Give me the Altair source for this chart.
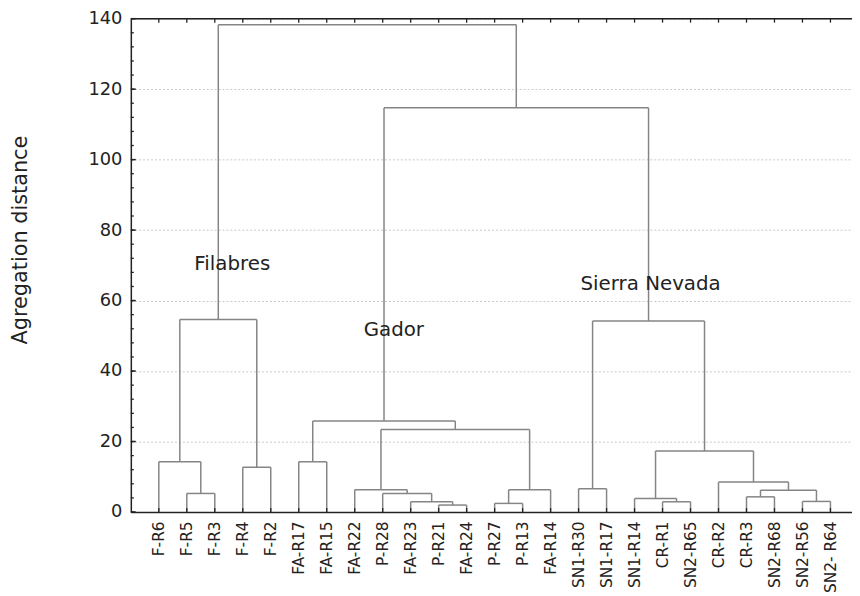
import json
import altair as alt
import pandas as pd

# ---- data ----
leaves = ["F-R6", "F-R5", "F-R3", "F-R4", "F-R2", "FA-R17", "FA-R15", "FA-R22",
          "P-R28", "FA-R23", "P-R21", "FA-R24", "P-R27", "P-R13", "FA-R14",
          "SN1-R30", "SN1-R17", "SN1-R14", "CR-R1", "SN2-R65", "CR-R2", "CR-R3",
          "SN2-R68", "SN2-R56", "SN2- R64"]
# linkage: node ids 0..24 are leaves, merge k creates node 25+k
merge_left = [10, 12, 9, 18, 23, 17, 21, 1, 8, 31, 7, 26, 15, 20, 3, 0, 5, 30, 35, 41, 37, 40, 44, 46]
merge_right = [11, 13, 25, 19, 24, 28, 22, 2, 27, 29, 33, 14, 16, 34, 4, 32, 6, 38, 36, 43, 42, 39, 45, 47]
merge_height = [1.97, 2.44, 2.9, 2.9, 3.0, 3.84, 4.3, 5.26, 5.26, 6.2, 6.3, 6.3, 6.6, 8.5,
                12.7, 14.25, 14.25, 17.3, 23.4, 25.8, 54.2, 54.6, 114.7, 138.3]
group_labels = ["Filabres", "Gador", "Sierra Nevada"]
group_label_x = [2.27, 8.32, 16.07]
group_label_y = [68.6, 49.85, 63.0]
y_major = [0, 20, 40, 60, 80, 100, 120, 140]
y_minor = list(range(0, 141, 4))

# ---- build dendrogram segments ----
n = len(leaves)
xpos = {i: i + 1 for i in range(n)}
hpos = {i: 0.0 for i in range(n)}
segs = []
for k, (a, b, h) in enumerate(zip(merge_left, merge_right, merge_height)):
    node = n + k
    xa, xb = xpos[a], xpos[b]
    segs.append(dict(x=xa, x2=xb, y=h, y2=h))
    segs.append(dict(x=xa, x2=xa, y=hpos[a], y2=h))
    segs.append(dict(x=xb, x2=xb, y=hpos[b], y2=h))
    xpos[node] = (xa + xb) / 2
    hpos[node] = h
seg_df = pd.DataFrame(segs)

XMAX = 25.77
FONT = "DejaVu Sans"
AX = "#222222"

xscale = alt.Scale(domain=[0, XMAX], nice=False, zero=False)
yscale = alt.Scale(domain=[0, 140], nice=False)

label_expr = json.dumps(leaves) + "[datum.value - 1]"

X_AXIS = alt.Axis(
    values=list(range(1, n + 1)), labelExpr=label_expr, labelAngle=-90,
    labelFontSize=15.5, labelFont=FONT, labelColor=AX, labelPadding=9,
    ticks=False, grid=False, domainColor=AX, domainWidth=1.5,
    labelOverlap=False, labelBound=False, labelFlush=False, title=None)
Y_AXIS = alt.Axis(
    values=y_major, labelFontSize=18, labelFont=FONT, labelColor=AX,
    labelPadding=9, ticks=False, grid=True, gridDash=[2, 2],
    gridColor="#c8c8c8", gridWidth=1, domainColor=AX, domainWidth=1.5,
    title="Agregation distance", titleFont=FONT, titleFontSize=21,
    titleFontWeight="normal", titleColor=AX, titleAngle=270,
    titleAlign="center", titleBaseline="bottom", titleX=-101, titleY=223)


def xf(field):
    return alt.X(field, scale=xscale, axis=X_AXIS)


def yf(field):
    return alt.Y(field, scale=yscale, axis=Y_AXIS)


def xd(v):
    return alt.XDatum(v, scale=xscale, axis=X_AXIS)


def yd(v):
    return alt.YDatum(v, scale=yscale, axis=Y_AXIS)


dendro = alt.Chart(seg_df).mark_rule(color="#858585", strokeWidth=1.5).encode(
    x=xf("x:Q"), x2="x2:Q", y=yf("y:Q"), y2="y2:Q")

leaf_df = pd.DataFrame({"x": list(range(1, n + 1))})
top_ticks = alt.Chart(leaf_df).mark_rule(color=AX, strokeWidth=1.3, y2Offset=4).encode(
    x=xf("x:Q"), y=yd(140), y2=alt.datum(140))
bottom_ticks = alt.Chart(leaf_df).mark_rule(color=AX, strokeWidth=1.3, y2Offset=-4).encode(
    x=xf("x:Q"), y=yd(0), y2=alt.datum(0))
top_line = alt.Chart(pd.DataFrame({"a": [0]})).mark_rule(color=AX, strokeWidth=1.5).encode(
    x=xd(0), x2=alt.datum(XMAX), y=yd(140))
minor_df = pd.DataFrame({"v": y_minor})
left_minor = alt.Chart(minor_df).mark_rule(color=AX, strokeWidth=1.3, x2Offset=3).encode(
    y=yf("v:Q"), x=xd(0), x2=alt.datum(0))
major_df = pd.DataFrame({"v": y_major})
left_major = alt.Chart(major_df).mark_rule(color=AX, strokeWidth=1.5, x2Offset=5).encode(
    y=yf("v:Q"), x=xd(0), x2=alt.datum(0))

ann_df = pd.DataFrame({"t": group_labels, "x": group_label_x, "y": group_label_y})
ann = alt.Chart(ann_df).mark_text(align="left", baseline="alphabetic", font=FONT,
                                  fontSize=20, color=AX).encode(
    x=xf("x:Q"), y=yf("y:Q"), text="t:N")

chart = alt.layer(dendro, top_ticks, bottom_ticks, top_line, left_minor, left_major, ann).properties(
    width=728, height=498,
    autosize=alt.AutoSizeParams(type="none"),
    padding={"left": 124, "top": 8, "right": 0, "bottom": 80},
).configure_view(stroke=None).configure(background="white")

chart.save("out.html", embed_options={"renderer": "svg", "actions": False})
